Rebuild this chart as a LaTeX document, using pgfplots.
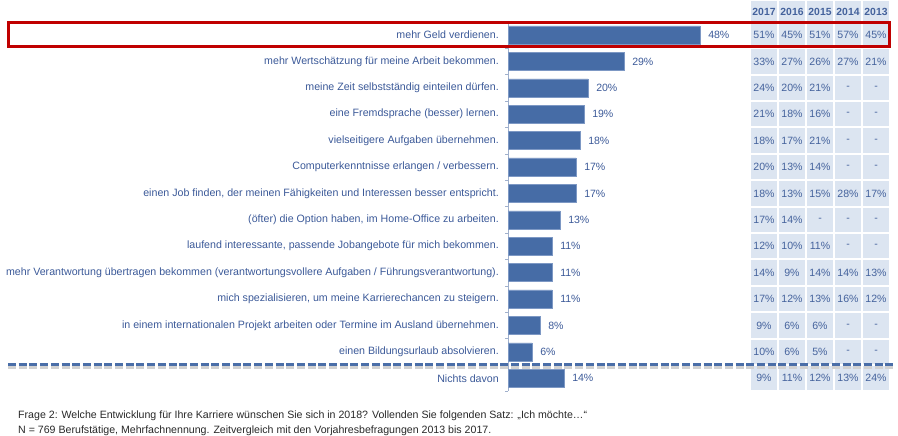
\documentclass[border=0pt]{standalone}
\usepackage{pgfplots}
\pgfplotsset{compat=1.18}
\usepackage{fontspec}
\setmainfont{Liberation Sans}
\definecolor{barblue}{RGB}{70,108,166}
\definecolor{barouter}{RGB}{125,152,196}
\definecolor{textblue}{RGB}{59,89,152}
\definecolor{cellblue}{RGB}{68,98,156}
\definecolor{cellfill}{RGB}{220,229,241}
\definecolor{axisgray}{RGB}{160,176,204}
\definecolor{boxred}{RGB}{192,0,0}
\definecolor{dashblue}{RGB}{74,110,168}
\definecolor{footgray}{RGB}{40,40,40}
\newcommand\cellv[1]{\edef\tmpa{#1}\def\tmpb{-}\ifx\tmpa\tmpb -\else #1\%\fi}
\begin{document}
\begin{tikzpicture}[x=1bp,y=1bp]
\useasboundingbox (0,0) rectangle (898,436);
% table background
\foreach \cx in {764,792,820,848,876} {
  \fill[cellfill] (\cx-13,435) rectangle (\cx+13,415.2);
  \foreach \k in {1,...,14} {
    \pgfmathsetmacro\yc{436-(21.8+(\k-0.5)*26.4)}
    \fill[cellfill] (\cx-13,\yc-12.2) rectangle (\cx+13,\yc+12.2);
  }
}
% header
\foreach \cx/\yr in {764/2017,792/2016,820/2015,848/2014,876/2013} {
  \node[font=\fontsize{10.4}{12}\selectfont\bfseries, text=cellblue, inner sep=0pt] at (\cx,424) {\yr};
}
% table values
\foreach \k/\a/\b/\c/\d/\e in {
  1/51/45/51/57/45,
  2/33/27/26/27/21,
  3/24/20/21/-/-,
  4/21/18/16/-/-,
  5/18/17/21/-/-,
  6/20/13/14/-/-,
  7/18/13/15/28/17,
  8/17/14/-/-/-,
  9/12/10/11/-/-,
  10/14/9/14/14/13,
  11/17/12/13/16/12,
  12/9/6/6/-/-,
  13/10/6/5/-/-,
  14/9/11/12/13/24} {
  \pgfmathsetmacro\yc{436-(21.8+(\k-0.5)*26.4)}
  \begin{scope}[every node/.style={font=\fontsize{10.6}{12}\selectfont, text=cellblue, inner sep=0pt}]
  \node at (764,\yc) {\cellv{\a}};
  \node at (792,\yc) {\cellv{\b}};
  \node at (820,\yc) {\cellv{\c}};
  \node at (848,\yc) {\cellv{\d}};
  \node at (876,\yc) {\cellv{\e}};
  \end{scope}
}
\begin{axis}[
  at={(508bp,44.6bp)}, anchor=south west,
  scale only axis, width=240bp, height=369.6bp,
  xmin=0, xmax=60, ymin=0.5, ymax=14.5, y dir=reverse,
  xbar, bar width=18bp,
  axis x line=none, axis y line=left,
  y axis line style={draw=axisgray, -},
  ytick={1,...,14},
  yticklabels={
    mehr Geld verdienen.,
    mehr Wertschätzung für meine Arbeit bekommen.,
    meine Zeit selbstständig einteilen dürfen.,
    eine Fremdsprache (besser) lernen.,
    vielseitigere Aufgaben übernehmen.,
    Computerkenntnisse erlangen / verbessern.,
    {einen Job finden, der meinen Fähigkeiten und Interessen besser entspricht.},
    {(öfter) die Option haben, im Home-Office zu arbeiten.},
    {laufend interessante, passende Jobangebote für mich bekommen.},
    mehr Verantwortung übertragen bekommen (verantwortungsvollere Aufgaben / Führungsverantwortung).,
    {mich spezialisieren, um meine Karrierechancen zu steigern.},
    in einem internationalen Projekt arbeiten oder Termine im Ausland übernehmen.,
    einen Bildungsurlaub absolvieren.,
    Nichts davon},
  major tick length=0pt,
  minor ytick={0.5,1.5,...,14.5},
  minor tick length=3bp,
  tick align=outside,
  every minor tick/.append style={draw=axisgray},
  yticklabel style={font=\fontsize{10.68}{12}\selectfont, text=textblue, inner sep=0pt, xshift=-9bp},
  /pgf/number format/assume math mode=true,
  point meta=x,
  nodes near coords={\pgfmathprintnumber{\pgfplotspointmeta}\%},
  nodes near coords style={font=\fontsize{10.6}{12}\selectfont, text=textblue, anchor=west, inner sep=0pt, xshift=8bp},
  clip=false,
]
\addplot[fill=barblue, draw=barouter, line width=0.5bp] coordinates {
  (48,1) (29,2) (20,3) (19,4) (18,5) (17,6) (17,7) (13,8) (11,9) (11,10) (11,11) (8,12) (6,13) (14,14)};
\end{axis}
% red highlight box
\draw[boxred, line width=3bp] (8.5,436-22.5) rectangle (889.5,436-46.5);
% dashed separator with shadow
\draw[black!18, line width=3bp, dash pattern=on 8bp off 2.7bp] (8,436-367.8) -- (893,436-367.8);
\draw[dashblue, line width=3bp, dash pattern=on 8bp off 2.7bp] (8,436-365) -- (893,436-365);
% footnote
\node[anchor=west, inner sep=0pt, font=\fontsize{10.65}{12}\selectfont, text=footgray] at (18,436-416) {Frage 2: Welche Entwicklung für Ihre Karriere wünschen Sie sich in 2018? Vollenden Sie folgenden Satz: „Ich möchte…“};
\node[anchor=west, inner sep=0pt, font=\fontsize{10.65}{12}\selectfont, text=footgray] at (18,436-430.5) {N = 769 Berufstätige, Mehrfachnennung. Zeitvergleich mit den Vorjahresbefragungen 2013 bis 2017.};
\end{tikzpicture}
\end{document}
